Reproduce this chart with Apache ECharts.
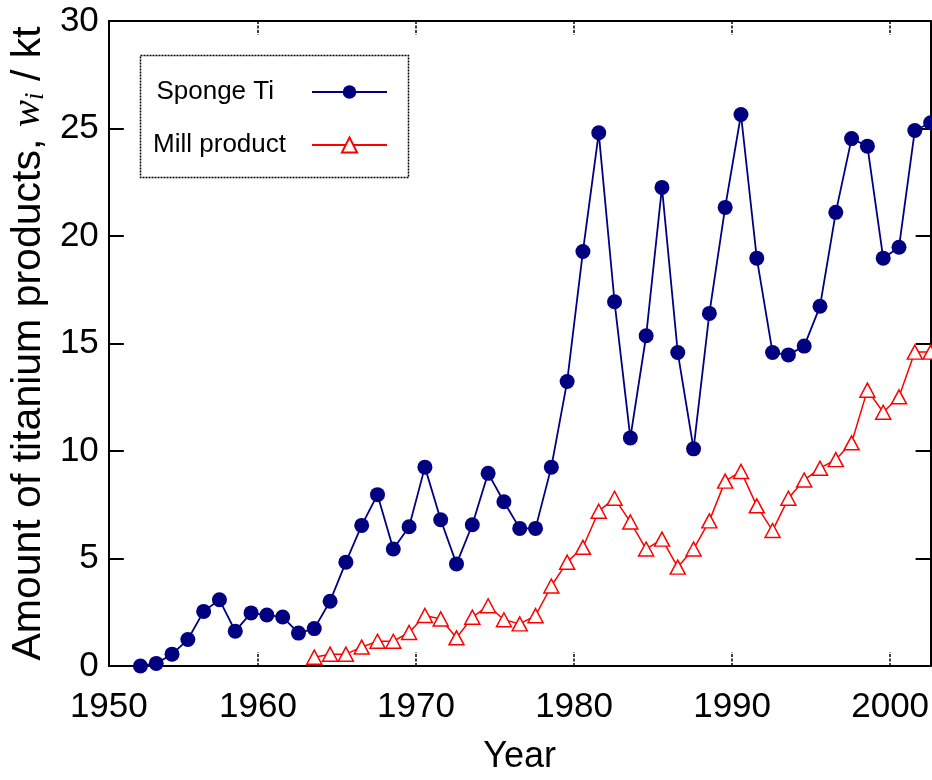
<!DOCTYPE html>
<html>
<head>
<meta charset="utf-8">
<script src="https://cdn.jsdelivr.net/npm/echarts@6/dist/echarts.min.js"></script>
<style>
  html, body { margin: 0; padding: 0; background: #ffffff; }
  #chart { width: 932px; height: 780px; }
</style>
</head>
<body>
<div id="chart"></div>
<script>
// Annual output of titanium products (kt)
const spongeYears = [1952, 1953, 1954, 1955, 1956, 1957, 1958, 1959, 1960, 1961,
  1962, 1963, 1964, 1965, 1966, 1967, 1968, 1969, 1970, 1971,
  1972, 1973, 1974, 1975, 1976, 1977, 1978, 1979, 1980, 1981,
  1982, 1983, 1984, 1985, 1986, 1987, 1988, 1989, 1990, 1991,
  1992, 1993, 1994, 1995, 1996, 1997, 1998, 1999, 2000, 2001, 2002];
const spongeTi = [0.0, 0.12, 0.55, 1.23, 2.54, 3.08, 1.62, 2.47, 2.37, 2.28,
  1.53, 1.74, 3.01, 4.83, 6.54, 7.97, 5.44, 6.48, 9.25, 6.80,
  4.75, 6.57, 8.96, 7.64, 6.40, 6.40, 9.25, 13.23, 19.28, 24.80,
  16.94, 10.61, 15.36, 22.26, 14.58, 10.10, 16.40, 21.33, 25.65, 18.97,
  14.58, 14.47, 14.88, 16.73, 21.10, 24.53, 24.18, 18.97, 19.48, 24.91, 25.27];

const millYears = [1963, 1964, 1965, 1966, 1967, 1968, 1969, 1970, 1971,
  1972, 1973, 1974, 1975, 1976, 1977, 1978, 1979, 1980, 1981,
  1982, 1983, 1984, 1985, 1986, 1987, 1988, 1989, 1990, 1991,
  1992, 1993, 1994, 1995, 1996, 1997, 1998, 1999, 2000, 2001, 2002];
const millProduct = [0.41, 0.55, 0.55, 0.88, 1.15, 1.15, 1.56, 2.35, 2.19,
  1.31, 2.27, 2.80, 2.15, 1.96, 2.34, 3.72, 4.83, 5.52, 7.2,
  7.8, 6.7, 5.44, 5.9, 4.6, 5.44, 6.75, 8.6, 9.05, 7.45,
  6.3, 7.8, 8.65, 9.2, 9.6, 10.38, 12.83, 11.8, 12.52, 14.6, 14.6];

const yearTicks = [1950, 1960, 1970, 1980, 1990, 2000];
const valueTicks = [0, 5, 10, 15, 20, 25, 30];

const FONT = "'Liberation Sans', Arial, sans-serif";
const SERIF = "'Liberation Serif', 'Times New Roman', serif";

const pair = (xs, ys) => xs.map((x, i) => [x, ys[i]]);

const chart = echarts.init(document.getElementById('chart'), null, { renderer: 'canvas' });

// Year axis used for the tick marks and labels (offset from the data axis)
const tickAxisBase = {
  type: 'value',
  min: 1950.56,
  max: 2002.56,
  axisLine: { show: true, onZero: false, lineStyle: { color: '#000', width: 2 } },
  axisTick: { show: true, inside: true, length: 14, lineStyle: { color: '#000', width: 1.5, type: [3, 1.5] } },
  splitLine: { show: false },
  minorTick: { show: false }
};

chart.setOption({
  animation: false,
  backgroundColor: '#ffffff',
  grid: { left: 107, right: -1, top: 21, bottom: 111, containLabel: false },
  xAxis: [
    {
      type: 'value',
      min: 1950,
      max: 2002,
      show: false
    },
    Object.assign({}, tickAxisBase, {
      position: 'bottom',
      axisLabel: {
        show: true,
        margin: 24,
        fontSize: 35,
        fontFamily: FONT,
        color: '#000',
        showMaxLabel: false,
        formatter: function (v) {
          const t = yearTicks.find(y => Math.abs(y - v) < 1);
          return t === undefined ? '' : String(t);
        }
      },
      name: 'Year',
      nameLocation: 'middle',
      nameGap: 73,
      nameTextStyle: { fontSize: 36, fontFamily: FONT, color: '#000' }
    }),
    Object.assign({}, tickAxisBase, {
      position: 'top',
      axisLabel: { show: false }
    })
  ],
  yAxis: [
    {
      type: 'value',
      min: valueTicks[0],
      max: valueTicks[valueTicks.length - 1],
      interval: 5,
      position: 'left',
      axisLine: { show: true, onZero: false, lineStyle: { color: '#000', width: 2 } },
      axisTick: { show: true, inside: true, length: 15, lineStyle: { color: '#000', width: 2 } },
      splitLine: { show: false },
      axisLabel: { margin: 10, fontSize: 35, fontFamily: FONT, color: '#000' },
      name: 'Amount of titanium products, {w|w}{s|i} / kt',
      nameLocation: 'middle',
      nameGap: 54,
      nameTextStyle: {
        fontSize: 41,
        fontFamily: FONT,
        color: '#000',
        rich: {
          w: { fontSize: 41, fontFamily: SERIF, fontStyle: 'italic', color: '#000' },
          s: { fontSize: 27, fontFamily: SERIF, fontStyle: 'italic', color: '#000',
               verticalAlign: 'bottom', padding: [14, 0, 0, 0] }
        }
      }
    },
    {
      type: 'value',
      min: valueTicks[0],
      max: valueTicks[valueTicks.length - 1],
      interval: 5,
      position: 'right',
      axisLine: { show: true, onZero: false, lineStyle: { color: '#000', width: 2 } },
      axisTick: { show: true, inside: true, length: 15, lineStyle: { color: '#000', width: 2 } },
      splitLine: { show: false },
      axisLabel: { show: false }
    }
  ],
  legend: [
    {
      data: ['Sponge Ti'],
      orient: 'vertical',
      align: 'right',
      right: 544,
      top: 79,
      padding: 0,
      itemWidth: 75,
      itemHeight: 17,
      textStyle: { fontSize: 26, fontFamily: FONT, color: '#000', padding: [0, 33, 0, 0] }
    },
    {
      data: ['Mill product'],
      orient: 'vertical',
      align: 'right',
      right: 544,
      top: 132,
      padding: 0,
      itemWidth: 75,
      itemHeight: 19,
      textStyle: { fontSize: 26, fontFamily: FONT, color: '#000', padding: [0, 21, 0, 0] }
    }
  ],
  graphic: [
    {
      type: 'rect',
      left: 138,
      top: 53,
      shape: { width: 268, height: 122 },
      style: { fill: 'none', stroke: '#000', lineWidth: 1.5, lineDash: [2, 1] },
      silent: true
    }
  ],
  series: [
    {
      name: 'Sponge Ti',
      type: 'line',
      xAxisIndex: 0,
      yAxisIndex: 0,
      data: pair(spongeYears, spongeTi),
      symbol: 'circle',
      symbolSize: 15,
      showAllSymbol: true,
      itemStyle: { color: '#000080' },
      lineStyle: { color: '#000080', width: 1.8 },
      z: 3
    },
    {
      name: 'Mill product',
      type: 'line',
      xAxisIndex: 0,
      yAxisIndex: 0,
      data: pair(millYears, millProduct),
      symbol: 'triangle',
      symbolSize: [15, 14],
      showAllSymbol: true,
      itemStyle: { color: '#ffffff', borderColor: '#ff0000', borderWidth: 1.5 },
      lineStyle: { color: '#ff0000', width: 1.5 },
      z: 2
    }
  ]
});
</script>
</body>
</html>
